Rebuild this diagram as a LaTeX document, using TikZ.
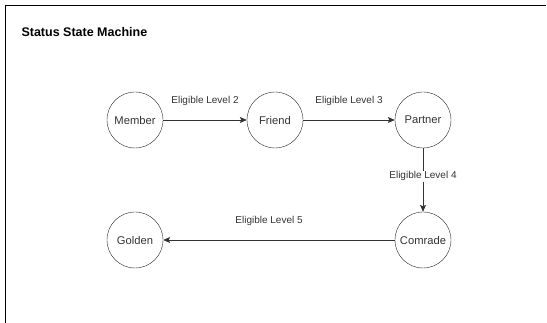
\documentclass[tikz,border=0pt]{standalone}
\usepackage{fontspec}
\setmainfont{Liberation Sans}
\usetikzlibrary{arrows.meta,positioning}

\begin{document}
\begin{tikzpicture}[x=1pt, y=-1pt,
    state/.style={draw=black!85, circle, minimum size=56pt, inner sep=0pt, font=\fontsize{11.2}{13}\selectfont, text=black!80},
    trans/.style={-{Stealth[length=7pt, width=6pt, inset=1.5pt]}, black!80, line width=0.8pt},
    elabel/.style={font=\fontsize{10}{12}\selectfont, text=black!80, inner sep=1pt},
    title/.style={font=\fontsize{12.5}{14}\selectfont\bfseries, anchor=west}
]
\useasboundingbox (0,0) rectangle (547,323);

% === Frame ===
\draw[black, line width=1pt] (5,323) -- (5,6) -- (546,6);
\node[title] (ttl) at (18,32) {Status State Machine};

% === States ===
\node[state] (member)  at (135,120) {Member};
\node[state] (friend)  at (275,120) {Friend};
\node[state] (partner) at (423,120) {Partner};
\node[state] (comrade) at (423,240) {Comrade};
\node[state] (golden)  at (135,240) {Golden};

% === Transitions ===
\draw[trans] (member) -- node[elabel, above=13pt] {Eligible Level 2} (friend);
\draw[trans] (friend) -- node[elabel, above=13pt] {Eligible Level 3} (partner);
\draw[trans] (partner) -- node[elabel, fill=white, pos=0.44] {Eligible Level 4} (comrade);
\draw[trans] (comrade) -- node[elabel, above=13pt, pos=0.543] {Eligible Level 5} (golden);

\end{tikzpicture}
\end{document}
